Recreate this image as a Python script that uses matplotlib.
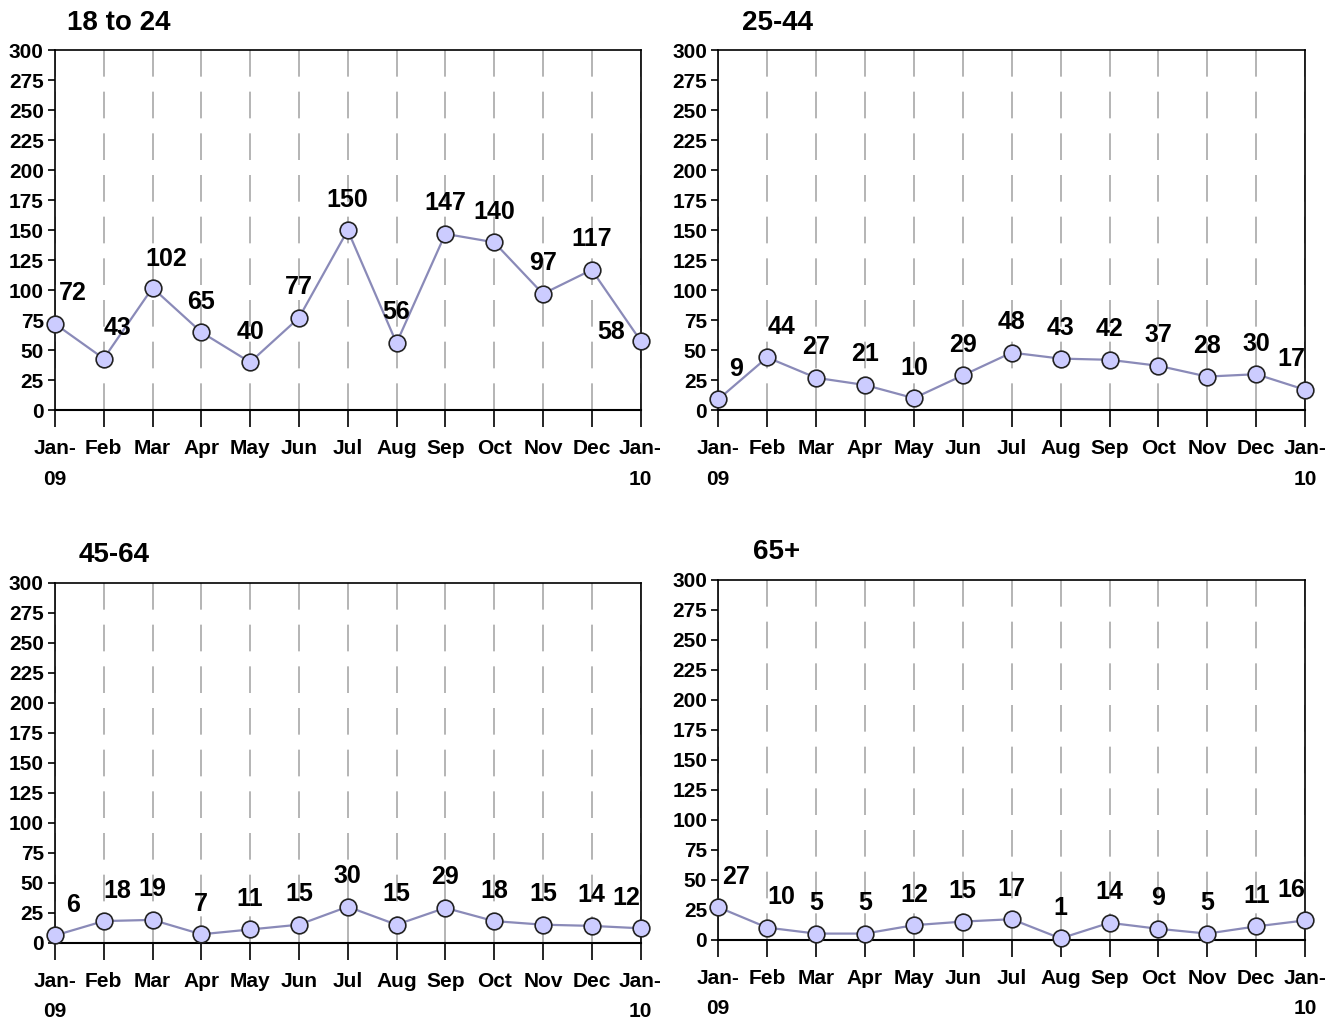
import matplotlib.pyplot as plt

# Data
months = ["Jan-\n09", "Feb", "Mar", "Apr", "May", "Jun", "Jul", "Aug",
          "Sep", "Oct", "Nov", "Dec", "Jan-\n10"]
age_18_24 = [72, 43, 102, 65, 40, 77, 150, 56, 147, 140, 97, 117, 58]
age_25_44 = [9, 44, 27, 21, 10, 29, 48, 43, 42, 37, 28, 30, 17]
age_45_64 = [6, 18, 19, 7, 11, 15, 30, 15, 29, 18, 15, 14, 12]
age_65_plus = [27, 10, 5, 5, 12, 15, 17, 1, 14, 9, 5, 11, 16]
titles = ["18 to 24", "25-44", "45-64", "65+"]
yticks = list(range(0, 301, 25))

plt.rcParams["font.family"] = ["Liberation Sans Narrow", "Liberation Sans", "DejaVu Sans"]
plt.rcParams["font.weight"] = "bold"

fig = plt.figure(figsize=(13.4, 10.28), dpi=100)

# [left, bottom, width, height] in figure fractions
boxes = [
    [0.041, 0.601, 0.437, 0.350],
    [0.536, 0.601, 0.438, 0.350],
    [0.041, 0.083, 0.437, 0.350],
    [0.536, 0.086, 0.438, 0.350],
]
series = [age_18_24, age_25_44, age_45_64, age_65_plus]
title_x = [0.02, 0.04, 0.04, 0.06]

# label offsets in points (dx, dy); default is centred above the marker
default_dx = {0: 13, 1: 10}
special = {(0, 2): (10, 21), (0, 12): (-21, 6)}

x = list(range(len(months)))
for k, (box, values, title, tx) in enumerate(zip(boxes, series, titles, title_x)):
    ax = fig.add_axes(box)
    ax.plot(x, values, color="#8a8ab8", lw=1.6, marker="o", markersize=12,
            markerfacecolor="#ccccff", markeredgecolor="#222222",
            markeredgewidth=1.2, zorder=3, clip_on=False)
    for i, v in enumerate(values):
        if (k, i) in special:
            off = special[(k, i)]
        elif i == len(values) - 1:
            off = (-10, 22)
        else:
            off = (default_dx.get(i, 0), 22)
        ax.annotate(str(v), (i, v), xytext=off, textcoords="offset points",
                    ha="center", va="center", fontsize=18, fontweight="bold")
    ax.set_xlim(0, len(months) - 1)
    ax.set_ylim(0, 300)
    ax.set_yticks(yticks)
    ax.set_xticks(x)
    ax.set_xticklabels(months, fontsize=15, fontweight="bold", linespacing=1.75)
    ax.tick_params(axis="y", labelsize=15, length=5, width=1.2, pad=3)
    ax.tick_params(axis="x", length=12, width=1.2, pad=9, direction="out")
    for lbl in ax.get_yticklabels():
        lbl.set_fontweight("bold")
    ax.grid(axis="x", color="#a8a8a8", lw=1.2, linestyle=(0, (16, 9)))
    ax.set_axisbelow(True)
    for s in ax.spines.values():
        s.set_color("black")
        s.set_linewidth(1.2)
    ax.spines["bottom"].set_linewidth(1.5)
    ax.text(tx, 1.04, title, transform=ax.transAxes, fontsize=20,
            fontweight="bold", ha="left", va="bottom")

fig.savefig("out.png", dpi=100)
